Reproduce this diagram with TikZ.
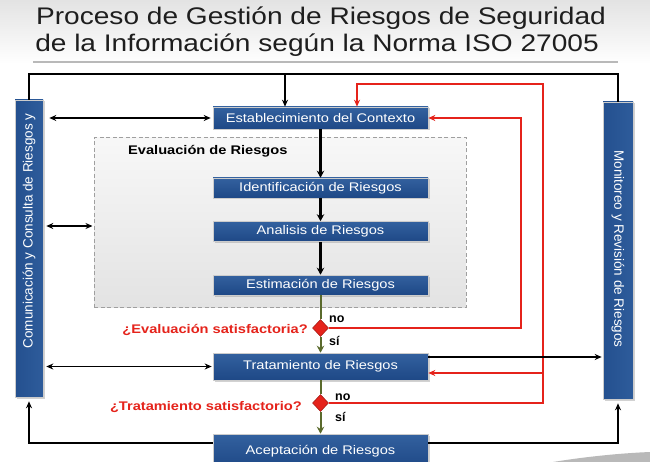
\documentclass[tikz,border=0pt]{standalone}
\usepackage{fontspec}
\setmainfont{Liberation Sans}
\usepackage{graphicx}
\usetikzlibrary{arrows.meta,shapes.geometric,shadows}
\definecolor{boxtop}{HTML}{33619F}
\definecolor{boxbot}{HTML}{1E4886}
\definecolor{barl}{HTML}{24508F}
\definecolor{barr}{HTML}{2E5C9B}
\definecolor{rd}{HTML}{E5231B}
\definecolor{olv}{HTML}{5A6A2C}
\definecolor{ttl}{HTML}{1E1E1E}
\newcommand{\hs}[1]{\scalebox{1.17}[1]{#1}}
\begin{document}
\begin{tikzpicture}[x=1pt,y=-1pt,
  bluebox/.style={top color=boxtop,bottom color=boxbot,draw=gray!40,line width=0.6pt,
    text=white,minimum width=215pt,inner sep=0pt,font=\fontsize{12.5}{14}\selectfont,
    drop shadow={shadow xshift=1.5pt,shadow yshift=-1.5pt,opacity=0.35}},
  sidebar/.style={left color=barl,right color=barr,draw=gray!40,line width=0.6pt,
    minimum width=28pt,minimum height=297pt,inner sep=0pt,
    drop shadow={shadow xshift=1.5pt,shadow yshift=-1.5pt,opacity=0.35}},
  sidetext/.style={text=white,font=\fontsize{13.5}{16}\selectfont,inner sep=0pt},
  dec/.style={diamond,fill=rd,draw=rd!70!black,line width=0.5pt,minimum width=16pt,minimum height=17pt,inner sep=0pt},
  lbl/.style={font=\bfseries\fontsize{12.5}{14}\selectfont,inner sep=0pt,anchor=west},
  quest/.style={font=\bfseries\fontsize{12.5}{14}\selectfont,text=rd,inner sep=0pt,anchor=east},
  line/.style={draw=black,line width=1.2pt},
  arr/.style={line,-{Stealth[length=7pt,width=6pt]}},
  darr/.style={line,{Stealth[length=7pt,width=6pt]}-{Stealth[length=7pt,width=6pt]}},
  flow/.style={draw=black,line width=2.2pt,-{Stealth[length=7pt,width=7.5pt]}},
  grn/.style={draw=olv,line width=2pt},
  grnarr/.style={grn,-{Stealth[length=7pt,width=7.5pt]}},
  redl/.style={draw=rd,line width=1.3pt},
  redarr/.style={redl,-{Stealth[length=7pt,width=6pt]}}
]
\clip (0,0) rectangle (650,462);
\useasboundingbox (0,0) rectangle (650,462);
% background
\fill[white] (0,0) rectangle (650,462);
\fill[top color=gray!22,bottom color=white] (0,0) rectangle (650,64);
\fill[gray!55] (553,462) .. controls (590,456) and (625,453) .. (650,452) -- (650,462) -- cycle;

% title
\node[anchor=base,font=\fontsize{24}{28}\selectfont,text=ttl,inner sep=0pt] (title1) at (321,25) {\hs{Proceso de Gestión de Riesgos de Seguridad}};
\node[anchor=base,font=\fontsize{24}{28}\selectfont,text=ttl,inner sep=0pt] (title2) at (317,52) {\hs{de la Información según la Norma ISO 27005}};
\draw[gray!55,line width=1.5pt] (33,62) -- (618,62);

% dashed evaluation area
\node[draw=gray!75,dash pattern=on 4pt off 2.5pt,line width=1pt,top color=gray!6,bottom color=gray!22,
      minimum width=372pt,minimum height=169pt,inner sep=0pt] (dbox) at (280,222.5) {};
\node[lbl] (evlbl) at (128,151) {\hs{Evaluación de Riesgos}};

% process boxes
\node[bluebox,minimum height=22pt] (est) at (320.5,118) {\hs{Establecimiento del Contexto}};
\node[bluebox,minimum height=20pt] (ident) at (320.5,188) {\hs{Identificación de Riesgos}};
\node[bluebox,minimum height=20pt] (anal) at (320.5,231.5) {\hs{Analisis de Riesgos}};
\node[bluebox,minimum height=20pt] (estim) at (320.5,285) {\hs{Estimación de Riesgos}};
\node[bluebox,minimum height=27pt] (trat) at (320.5,366.5) {\hs{Tratamiento de Riesgos}};
\node[bluebox,minimum height=34pt] (acep) at (320.5,451) {\hs{Aceptación de Riesgos}};

% side bars
\node[sidebar] (lbar) at (29,248.5) {};
\node[sidetext,rotate=90] (ltxt) at (29,231) {Comunicación y Consulta de Riesgos y};
\node[sidebar,minimum width=30pt] (rbar) at (618,250.5) {};
\node[sidetext,rotate=-90] (rtxt) at (618,249) {Monitoreo y Revisión de Riesgos};

% decisions
\node[dec] (d1) at (320.5,328) {};
\node[dec] (d2) at (320.5,403) {};
\node[lbl] (no1) at (329,319) {no};
\node[lbl] (si1) at (329,341) {sí};
\node[lbl] (no2) at (335,397) {no};
\node[lbl] (si2) at (335,417) {sí};
\node[quest] (q1) at (308,330) {\hs{¿Evaluación satisfactoria?}};
\node[quest] (q2) at (302,407) {\hs{¿Tratamiento satisfactorio?}};

% coordinates
\coordinate (topy) at (285,74);
\coordinate (m2) at (60,226);
\coordinate (r1) at (521,118);
\coordinate (r2) at (543,84);
\coordinate (r3) at (357,84);
\coordinate (r4) at (543,373);
\coordinate (t1) at (428,357);
\coordinate (bl) at (0,443);

% top loop
\draw[line] (lbar.north) |- (topy) -| (rbar.north);
\draw[arr] (topy) -- (topy |- est.north);

% double arrows with left bar
\draw[darr,shorten <=6pt,shorten >=2pt] (lbar.east |- est) -- (est.west);
\draw[darr,shorten <=3pt,shorten >=1pt] (lbar.east |- m2) -- (dbox.west |- m2);
\draw[darr,shorten <=3pt,shorten >=1pt] (lbar.east |- trat) -- (trat.west);

% main flow
\draw[flow] (est.south) -- (ident.north);
\draw[flow] (ident.south) -- (anal.north);
\draw[flow] (anal.south) -- (estim.north);
\draw[grn] (estim.south) -- (d1.north);
\draw[grnarr] (d1.south) -- (trat.north);
\draw[grn] (trat.south) -- (d2.north);
\draw[grnarr] (d2.south) -- (acep.north);

% red feedback loops
\draw[redarr] (d1.east) -| (r1) -- (est.east);
\draw[redarr] (d2.east) -| (r2) -- (r3) -- (r3 |- est.north);
\draw[redarr] (r4) -- (r4 -| trat.east);

% treatment to monitoring
\draw[arr,shorten >=1pt] (t1) -- (t1 -| rbar.west);

% bottom loops
\draw[arr,shorten >=4pt] (acep.west |- bl) -| (lbar.south);
\draw[arr,shorten >=4pt] (acep.east |- bl) -| (rbar.south);
\end{tikzpicture}
\end{document}
